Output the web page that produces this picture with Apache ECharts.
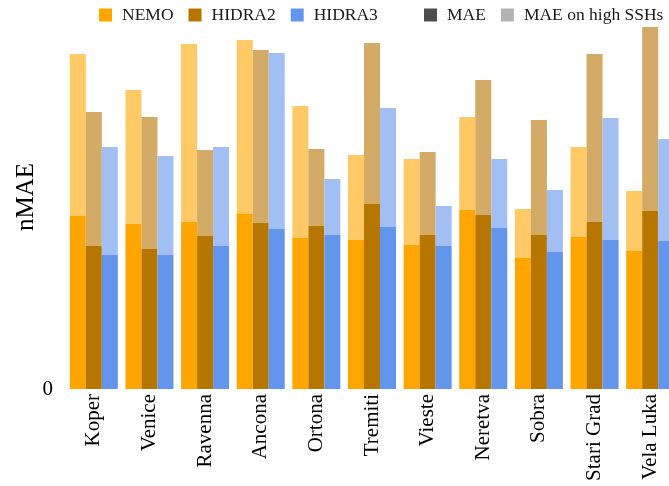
<!DOCTYPE html>
<html>
<head>
<meta charset="utf-8">
<script src="https://cdn.jsdelivr.net/npm/echarts@6/dist/echarts.min.js"></script>
<style>
html,body{margin:0;padding:0;background:#fff;overflow:hidden;width:669px;height:486px;}
#chart{width:678px;height:486px;}
</style>
</head>
<body>
<div id="chart"></div>
<script>
const stations = ['Koper','Venice','Ravenna','Ancona','Ortona','Tremiti','Vieste','Neretva','Sobra','Stari Grad','Vela Luka'];
// nMAE (overall)
const nemoMAE   = [0.173,0.165,0.167,0.175,0.151,0.149,0.144,0.179,0.131,0.152,0.138];
const hidra2MAE = [0.143,0.140,0.153,0.166,0.163,0.185,0.154,0.174,0.154,0.167,0.178];
const hidra3MAE = [0.134,0.134,0.143,0.160,0.154,0.162,0.143,0.161,0.137,0.149,0.148];
// nMAE on high SSHs
const nemoHigh   = [0.335,0.299,0.345,0.349,0.283,0.234,0.230,0.272,0.180,0.242,0.198];
const hidra2High = [0.277,0.272,0.239,0.339,0.240,0.346,0.237,0.309,0.269,0.335,0.362];
const hidra3High = [0.242,0.233,0.242,0.336,0.210,0.281,0.183,0.230,0.199,0.271,0.250];
const yTicks = [0];

const FONT = 'Liberation Serif';
const models = [
  {name:'NEMO',   mae:nemoMAE,   high:nemoHigh,   solid:'#FFA500', light:'#FFC966', stack:'n'},
  {name:'HIDRA2', mae:hidra2MAE, high:hidra2High, solid:'#B77600', light:'#D3AA66', stack:'h2'},
  {name:'HIDRA3', mae:hidra3MAE, high:hidra3High, solid:'#6495ED', light:'#A2BFF4', stack:'h3'}
];
const series = [];
models.forEach(m => {
  series.push({
    name:m.name, type:'bar', stack:m.stack, barWidth:16, barGap:'0%',
    itemStyle:{color:m.solid}, data:m.mae
  });
  series.push({
    name:m.name + ' (high SSHs)', type:'bar', stack:m.stack, barWidth:16, barGap:'0%',
    itemStyle:{color:m.light}, data:m.high.map((v,i)=>+(v - m.mae[i]).toFixed(4))
  });
});
series.push({name:'MAE', type:'line', data:[], color:'#4D4D4D', itemStyle:{color:'#4D4D4D'}});
series.push({name:'MAE on high SSHs', type:'line', data:[], color:'#B3B3B3', itemStyle:{color:'#B3B3B3'}});

const legendCommon = {
  top:6, padding:0, icon:'rect', itemWidth:13, itemHeight:13, itemGap:15,
  textStyle:{fontFamily:FONT, fontSize:17.5, color:'#1a1a1a', padding:[0,0,0,5]}
};
const chart = echarts.init(document.getElementById('chart'), null, {renderer:'canvas'});
chart.setOption({
  animation:false,
  backgroundColor:'#fff',
  legend:[
    Object.assign({left:99, data:['NEMO','HIDRA2','HIDRA3']}, legendCommon),
    Object.assign({left:424, data:['MAE','MAE on high SSHs']}, legendCommon)
  ],
  grid:{left:66, right:0, top:19, bottom:97, containLabel:false},
  xAxis:{
    type:'category', data:stations,
    axisLine:{show:false}, axisTick:{show:false},
    axisLabel:{rotate:90, interval:0, margin:5, fontFamily:FONT, fontSize:21, color:'#000'}
  },
  yAxis:{
    type:'value', min:0, max:0.37, interval:1,
    name:'nMAE', nameLocation:'middle', nameRotate:90, nameGap:27, nameMoveOverlap:false,
    nameTextStyle:{fontFamily:FONT, fontSize:25, color:'#000', padding:[0,0,0,14]},
    axisLine:{show:false}, axisTick:{show:false}, splitLine:{show:false},
    axisLabel:{fontFamily:FONT, fontSize:21, color:'#000', margin:13,
      formatter: v => (yTicks.indexOf(v) >= 0 ? String(v) : '')}
  },
  series:series
});
</script>
</body>
</html>
